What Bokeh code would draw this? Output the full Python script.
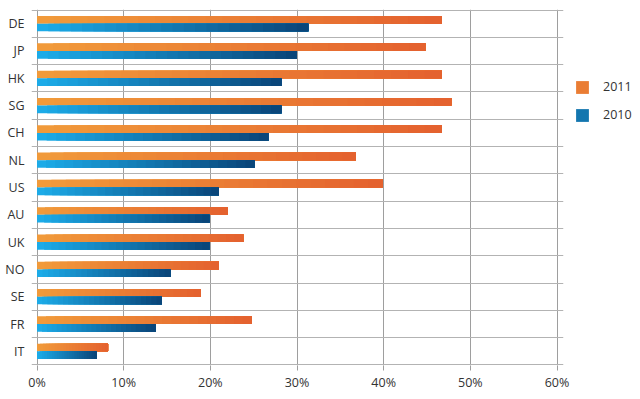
from bokeh.plotting import figure
from bokeh.models import (ColumnDataSource, FixedTicker, PrintfTickFormatter, Legend,
                          LegendItem, Range1d)
from bokeh.embed import file_html
from bokeh.resources import INLINE
from bokeh.core.properties import value

# ---- data ----
countries = ["DE", "JP", "HK", "SG", "CH", "NL", "US", "AU", "UK", "NO", "SE", "FR", "IT"]
v2011 = [46.7, 44.8, 46.7, 47.8, 46.7, 36.8, 39.9, 22.0, 23.8, 21.0, 18.9, 24.8, 8.2]
v2010 = [31.3, 30.0, 28.2, 28.2, 26.7, 25.1, 21.0, 19.9, 19.9, 15.4, 14.4, 13.7, 6.9]
series = ["2011", "2010"]
x_ticks = [0, 10, 20, 30, 40, 50, 60]

# ---- styling ----
orange_stops = ("#F19A3A", "#E4622F")
blue_stops = ("#1CABE8", "#0A467A")
N = 24
FONT = "Open Sans"
TXT = "#333333"


def hex2rgb(h):
    h = h.lstrip("#")
    return tuple(int(h[i:i + 2], 16) for i in (0, 2, 4))


def lerp(c1, c2, t):
    a, b = hex2rgb(c1), hex2rgb(c2)
    return "#%02x%02x%02x" % tuple(round(a[i] + (b[i] - a[i]) * t) for i in range(3))


rows = len(countries)
yc = [rows - i - 0.5 for i in range(rows)]
BAR_H = 0.28


def slices(vals, offset, stops):
    y, left, right, color = [], [], [], []
    for v, c in zip(vals, yc):
        for k in range(N):
            y.append(c + offset)
            left.append(v * k / N)
            right.append(v)
            color.append(lerp(stops[0], stops[1], k / (N - 1)))
    return ColumnDataSource(dict(y=y, left=left, right=right, color=color))


p = figure(frame_width=532, frame_height=356,
           x_range=Range1d(-0.635, 60.75), y_range=Range1d(-0.02, 13.02),
           output_backend="svg", toolbar_location=None,
           min_border_left=31, min_border_top=9, min_border_right=69, min_border_bottom=26)
p.outline_line_color = None
p.background_fill_color = "white"

# y axis: category labels at row centres
ya = p.yaxis[0]
ya.ticker = FixedTicker(ticks=yc)
ya.major_label_overrides = {y: c for y, c in zip(yc, countries)}
ya.axis_line_color = None
ya.major_tick_line_color = None
ya.minor_tick_line_color = None
ya.major_tick_out = 0
ya.major_tick_in = 0
ya.major_label_standoff = 7
ya.major_label_text_font = FONT
ya.major_label_text_font_size = "12.5px"
ya.major_label_text_color = TXT

p.ygrid.ticker = FixedTicker(ticks=list(range(rows + 1)))
p.ygrid.grid_line_color = "#b3b3b3"
p.xgrid.ticker = FixedTicker(ticks=x_ticks)
p.xgrid.grid_line_color = "#9e9e9e"

xa = p.xaxis[0]
xa.ticker = FixedTicker(ticks=x_ticks)
xa.formatter = PrintfTickFormatter(format="%d%%")
xa.axis_line_color = None
xa.major_tick_line_color = "#9e9e9e"
xa.major_tick_out = 5
xa.major_tick_in = 0
xa.minor_tick_line_color = None
xa.major_label_text_font = FONT
xa.major_label_text_font_size = "12.5px"
xa.major_label_text_color = TXT
xa.major_label_standoff = 3

s11 = slices(v2011, BAR_H / 2, orange_stops)
s10 = slices(v2010, -BAR_H / 2, blue_stops)
r11 = p.hbar(y="y", left="left", right="right", height=BAR_H, fill_color="color",
             line_color=None, source=s11)
r10 = p.hbar(y="y", left="left", right="right", height=BAR_H, fill_color="color",
             line_color=None, source=s10)

legend = Legend(items=[LegendItem(label=value(series[0]), renderers=[r11], index=N // 2),
                       LegendItem(label=value(series[1]), renderers=[r10], index=N // 2)],
                location=(11, 242), padding=0, margin=0, spacing=11,
                glyph_width=16, glyph_height=16, label_height=16, label_standoff=13,
                label_text_font=FONT, label_text_font_size="12.5px", label_text_color=TXT,
                border_line_color=None, background_fill_alpha=0)
p.add_layout(legend, "right")

open("out.html", "w").write(file_html(p, INLINE))
